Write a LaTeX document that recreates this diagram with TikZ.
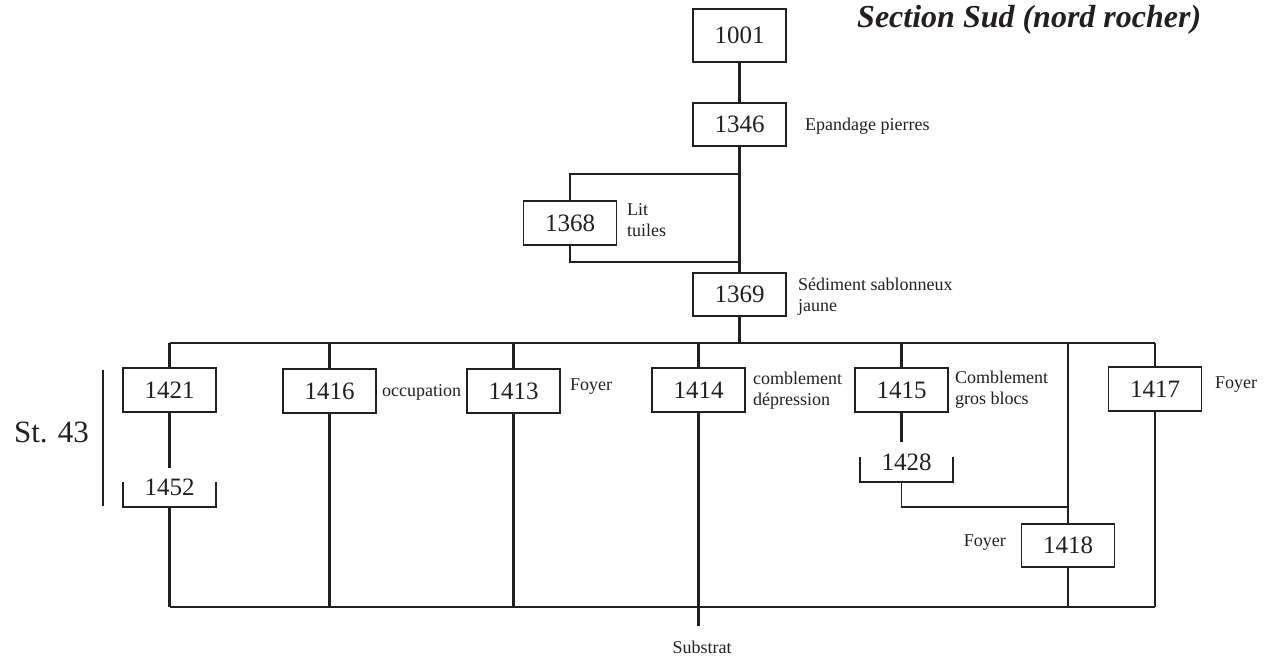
\documentclass[tikz,border=0pt]{standalone}
\usepackage{fontspec}
\setmainfont{Liberation Serif}
\usetikzlibrary{calc}
\definecolor{ink}{HTML}{231F20}
\begin{document}
\begin{tikzpicture}[x=1pt,y=-1pt,
  every node/.style={text=ink},
  box/.style={draw=ink, line width=1.8pt, minimum width=93pt, minimum height=44pt, inner sep=0pt, font=\fontsize{25}{25}\selectfont},
  brk/.style={minimum width=93pt, inner sep=0pt, font=\fontsize{25}{25}\selectfont},
  lab/.style={anchor=west, inner sep=0pt, align=left, font=\fontsize{18}{21}\selectfont},
  ln/.style={draw=ink, line width=2.4pt},
  thin/.style={draw=ink, line width=1.6pt}]
\useasboundingbox (0,0) rectangle (1280,659);

% title
\node[anchor=base west, inner sep=0pt, font=\fontsize{32}{32}\selectfont\bfseries\itshape] (title) at (857,27) {Section Sud (nord rocher)};

% upper chain
\node[box, minimum height=53pt] (b1001) at (739.5,35.5) {1001};
\node[box, minimum height=43pt] (b1346) at (739.5,124.5) {1346};
\node[box] (b1368) at (570,223) {1368};
\node[box, minimum height=43pt] (b1369) at (739.5,294.5) {1369};

\node[lab] (l1346) at (805,126) {Epandage pierres};
\node[lab] (l1368) at (627,220.5) {Lit\\tuiles};
\node[lab] (l1369) at (798,296.5) {Sédiment sablonneux\\jaune};

\coordinate (t1) at (739.5,174);
\coordinate (t2) at (739.5,262);
\coordinate (top) at (739.5,343);

\draw[ln] (b1001.south) -- (b1346.north);
\draw[ln] (b1346.south) -- (b1369.north);
\draw[ln] (b1368.north) -- (b1368.north |- t1) -- (t1);
\draw[ln] (b1368.south) -- (b1368.south |- t2) -- (t2);
\draw[ln] (b1369.south) -- (top);

% lower row of boxes
\node[box] (b1421) at (169.5,390) {1421};
\node[box] (b1416) at (329.5,391) {1416};
\node[box] (b1413) at (513.5,391) {1413};
\node[box] (b1414) at (698.5,390) {1414};
\node[box] (b1415) at (901.5,390) {1415};
\node[box] (b1417) at (1155,389) {1417};
\node[box, minimum height=43pt] (b1418) at (1068,545.5) {1418};

\node[brk, minimum height=39pt] (b1452) at (169.5,487.5) {1452};
\node[brk, minimum height=40pt] (b1428) at (906.5,462) {1428};

\node[lab] (l1416) at (382,392) {occupation};
\node[lab] (l1413) at (570,387) {Foyer};
\node[lab] (l1414) at (753,391) {comblement\\dépression};
\node[lab] (l1415) at (955,389.5) {Comblement\\gros blocs};
\node[lab] (l1417) at (1215,385) {Foyer};
\node[lab, anchor=east] (l1418) at (1006,543) {Foyer};

\node[inner sep=0pt, font=\fontsize{31}{31}\selectfont] (st43) at (51.5,432) {St. 43};
\coordinate (bar1) at (103,370);
\coordinate (bar2) at (103,506);
\draw[ln] (bar1) -- (bar2);

\node[inner sep=0pt, font=\fontsize{18}{18}\selectfont] (sub) at (702,647) {Substrat};

% horizontal rails
\coordinate (tl) at (169.5,343);
\coordinate (tr) at (1155,343);
\coordinate (bl) at (169.5,607);
\coordinate (br) at (1155,607);
\coordinate (j18) at (1068,343);
\coordinate (sube) at (698.5,626);
\draw[ln] (tl) -- (tr);
\draw[ln] (bl) -- (br);

% drops from top rail
\foreach \n in {b1421,b1416,b1413,b1414,b1415,b1417}
  \draw[ln] (\n.north |- tl) -- (\n.north);

% st. 43 column
\draw[ln] (b1421.south) -- (b1452.north -| b1421.south);
\draw[thin] ($(b1452.south west)+(0,-25)$) -- (b1452.south west) -- (b1452.south east) -- ++(0,-25);
\draw[ln] (b1452.south -| b1421.south) -- (bl);

% straight columns
\draw[ln] (b1416.south) -- (b1416.south |- bl);
\draw[ln] (b1413.south) -- (b1413.south |- bl);
\draw[ln] (b1414.south) -- (sube);
\draw[ln] (b1417.south) -- (br);

% 1415 / 1428 / 1418
\draw[ln] (b1415.south) -- (b1415.south |- b1428.north);
\draw[thin] ($(b1428.south west)+(0,-25)$) -- (b1428.south west) -- (b1428.south east) -- ++(0,-25);
\coordinate (k1) at (b1415.south |- 0,507);
\coordinate (k2) at (1068,507);
\draw[thin] (b1415.south |- b1428.south) -- (k1) -- (k2);
\draw[ln] (j18) -- (b1418.north);
\draw[thin] (b1418.south) -- (b1418.south |- bl);
\end{tikzpicture}
\end{document}
